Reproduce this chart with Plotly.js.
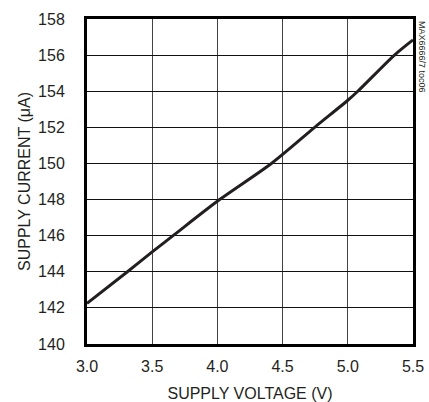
<!DOCTYPE html>
<html>
<head>
<meta charset="utf-8">
<script src="https://cdn.plot.ly/plotly-3.0.1.min.js"></script>
<style>body{margin:0;padding:0;background:#fff}#chart{width:429px;height:402px}</style>
</head>
<body>
<div id="chart"></div>
<script>
// Data
const supplyVoltage = [3.0, 3.31, 3.5, 3.66, 4.017, 4.414, 4.746, 5.0, 5.077, 5.358, 5.5];
const supplyCurrent = [142.25, 144.0, 145.1, 146.0, 148.0, 150.0, 152.0, 153.5, 154.0, 156.0, 156.84];
const xTicks = [3.0, 3.5, 4.0, 4.5, 5.0, 5.5];
const xTickLabels = ['3.0', '3.5', '4.0', '4.5', '5.0', '5.5'];
const yTicks = [140, 142, 144, 146, 148, 150, 152, 154, 156, 158];
const yTickLabels = ['140', '142', '144', '146', '148', '150', '152', '154', '156', '158'];

const FONT = '"Liberation Sans Narrow", "Arial Narrow", "Liberation Sans", Arial, sans-serif';

const trace = {
  x: supplyVoltage,
  y: supplyCurrent,
  type: 'scatter',
  mode: 'lines',
  line: {color: '#231f20', width: 3, shape: 'spline', smoothing: 0.8},
  hoverinfo: 'skip'
};

const layout = {
  width: 429,
  height: 402,
  margin: {l: 87, r: 16, t: 19, b: 58, pad: 0},
  paper_bgcolor: '#fff',
  plot_bgcolor: '#fff',
  showlegend: false,
  font: {family: FONT, size: 16, color: '#231f20'},
  xaxis: {
    range: [3.0, 5.5],
    tickvals: xTicks,
    ticktext: xTickLabels,
    ticks: 'outside', ticklen: 6, tickcolor: 'rgba(0,0,0,0)',
    showgrid: true, gridcolor: '#444', gridwidth: 1,
    zeroline: false,
    showline: true, linecolor: '#000', linewidth: 3, mirror: true,
    tickfont: {family: FONT, size: 16, color: '#231f20'},
    title: {text: 'SUPPLY VOLTAGE (V)', font: {family: FONT, size: 16, color: '#231f20'}, standoff: 15},
    automargin: false,
    fixedrange: true
  },
  yaxis: {
    range: [140, 158],
    tickvals: yTicks,
    ticktext: yTickLabels,
    ticks: 'outside', ticklen: 16, tickcolor: 'rgba(0,0,0,0)',
    showgrid: true, gridcolor: '#111', gridwidth: 1,
    zeroline: false,
    showline: true, linecolor: '#000', linewidth: 3, mirror: true,
    tickfont: {family: FONT, size: 16, color: '#231f20'},
    title: {text: 'SUPPLY CURRENT (μA)', font: {family: FONT, size: 16, color: '#231f20'}, standoff: 4},
    automargin: false,
    fixedrange: true
  },
  annotations: [
    {
      text: 'MAX6666/7 toc06',
      xref: 'paper', yref: 'paper',
      x: 1, y: 1,
      xshift: 9,
      xanchor: 'center', yanchor: 'top',
      textangle: 90,
      showarrow: false,
      font: {family: FONT, size: 9, color: '#231f20'}
    }
  ]
};

Plotly.newPlot('chart', [trace], layout, {displayModeBar: false, staticPlot: true});
</script>
</body>
</html>
